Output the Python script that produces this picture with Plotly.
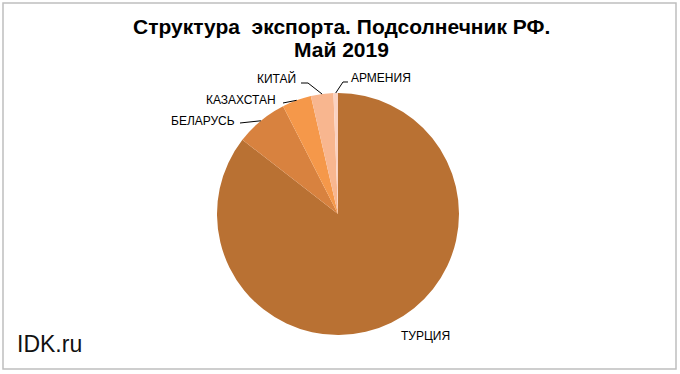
import math
import plotly.graph_objects as go

countries = ["ТУРЦИЯ", "БЕЛАРУСЬ", "КАЗАХСТАН", "КИТАЙ", "АРМЕНИЯ"]
shares = [85.5, 7.0, 3.9, 3.0, 0.6]
colors = ["#B97133", "#D8823F", "#F5984A", "#F8B68F", "#FAD2C2"]

W, H = 680, 374
CX, CY, R = 338, 214, 121

fig = go.Figure(go.Pie(
    labels=countries, values=shares, sort=False, direction="clockwise", rotation=0,
    marker=dict(colors=colors, line=dict(width=0)),
    textinfo="none", hoverinfo="label+percent", showlegend=False,
    domain=dict(x=[(CX - R) / W, (CX + R) / W], y=[1 - (CY + R) / H, 1 - (CY - R) / H]),
))

def px(x, y):
    return x / W, 1 - y / H

# slice mid-angle anchors derived from data
total = sum(shares)
anchors = []
cum = 0
for v in shares:
    mid = (cum + v / 2) / total * 2 * math.pi
    anchors.append((CX + R * math.sin(mid), CY - R * math.cos(mid)))
    cum += v

FONT = dict(family="Liberation Sans Narrow, Arial Narrow, Liberation Sans, Arial", size=12, color="#000")

label_pos = {
    "БЕЛАРУСЬ": (237, 121, "right", [(240, 123)]),
    "КАЗАХСТАН": (278, 100, "right", [(283, 103)]),
    "КИТАЙ": (298, 79, "right", [(301, 83), (308, 83)]),
    "АРМЕНИЯ": (349, 78, "left", [(348, 82), (343, 82)]),
}

for i, name in enumerate(countries):
    if name in label_pos:
        tx, ty, side, pts = label_pos[name]
        ax_, ay_ = px(tx, ty)
        fig.add_annotation(x=ax_, y=ay_, xref="paper", yref="paper", text=name, showarrow=False,
                           xanchor=side, yanchor="middle", font=FONT)
        allpts = pts + [anchors[i]]
        path = "M " + " L ".join(f"{p[0] / W:.5f},{1 - p[1] / H:.5f}" for p in allpts)
        fig.add_shape(type="path", path=path, xref="paper", yref="paper",
                      line=dict(color="#000", width=1))
    else:
        ax_, ay_ = px(425, 336)
        fig.add_annotation(x=ax_, y=ay_, xref="paper", yref="paper", text=name, showarrow=False,
                           xanchor="center", yanchor="middle", font=FONT)

TFONT = dict(family="Liberation Sans, Arial", size=21, color="#000", weight="bold")
fig.add_annotation(x=px(341, 26)[0], y=px(341, 26)[1], xref="paper", yref="paper",
                   text="Структура\u00a0 экспорта. Подсолнечник РФ.", showarrow=False,
                   xanchor="center", yanchor="middle", font=TFONT)
fig.add_annotation(x=px(341, 50)[0], y=px(341, 50)[1], xref="paper", yref="paper",
                   text="Май 2019", showarrow=False, xanchor="center", yanchor="middle", font=TFONT)
fig.add_annotation(x=px(15, 344)[0], y=px(15, 344)[1], xref="paper", yref="paper",
                   text="IDK.ru", showarrow=False, xanchor="left", yanchor="middle",
                   font=dict(family="Liberation Sans, Arial", size=23, color="#111"))

fig.add_shape(type="rect", xref="paper", yref="paper",
              x0=3 / W, x1=676 / W, y0=1 - 369 / H, y1=1 - 3 / H,
              line=dict(color="#BFBFBF", width=1.5))

fig.update_layout(width=W, height=H, margin=dict(l=0, r=0, t=0, b=0),
                  paper_bgcolor="white", plot_bgcolor="white")
fig.write_html("out.html", config={"displayModeBar": False},
               post_script="document.body.style.margin='0';document.body.style.overflow='hidden';")
